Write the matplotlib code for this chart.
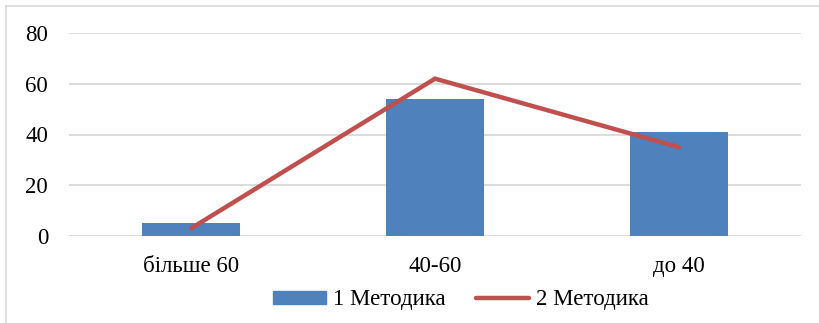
import matplotlib
matplotlib.use("Agg")
import matplotlib.pyplot as plt
from matplotlib.patches import Rectangle
from matplotlib.lines import Line2D

categories = ["більше 60", "40-60", "до 40"]
method1 = [5, 54, 41]
method2 = [3, 62, 35]
series_names = ["1 Методика", "2 Методика"]
y_ticks = [0, 20, 40, 60, 80]

plt.rcParams["font.family"] = ["Liberation Serif", "DejaVu Serif"]

W, H = 820, 323
FS = 16.5
fig = plt.figure(figsize=(W / 100, H / 100), dpi=100)

# chart frame (light border)
fig.patches.append(Rectangle((6 / W, -0.1), 1.2, (H - 6) / H + 0.1,
                             transform=fig.transFigure, fill=False,
                             edgecolor="#d9d9d9", linewidth=1.2, zorder=0))

ax = fig.add_axes([69 / W, (H - 236) / H, (801 - 69) / W, (236 - 33) / H])
x = list(range(len(categories)))

ax.set_ylim(0, 80)
ax.set_xlim(-0.5, len(categories) - 0.5)
ax.set_yticks(y_ticks)
ax.yaxis.grid(True, color="#d9d9d9", linewidth=1.3)
ax.set_axisbelow(True)
for s in ax.spines.values():
    s.set_visible(False)
ax.tick_params(axis="both", length=0, labelsize=FS, colors="black")
ax.tick_params(axis="y", pad=15)
ax.tick_params(axis="x", pad=14.5)
ax.set_xticks(x)
ax.set_xticklabels(categories)

ax.bar(x, method1, width=0.4, color="#4f81bd", zorder=2)
ax.plot(x, method2, color="#c0504d", linewidth=3.2, solid_capstyle="round",
        solid_joinstyle="miter", zorder=3)

handles = [Rectangle((0, 0), 1, 1, color="#4f81bd"),
           Line2D([0], [0], color="#c0504d", linewidth=3.2, solid_capstyle="round")]
fig.legend(handles, series_names, loc="center", bbox_to_anchor=(461 / W, (H - 300) / H),
           ncol=2, frameon=False, fontsize=FS, handlelength=2.3, handleheight=0.5,
           columnspacing=1.35, handletextpad=0.3)

fig.savefig("out.png", dpi=100)
